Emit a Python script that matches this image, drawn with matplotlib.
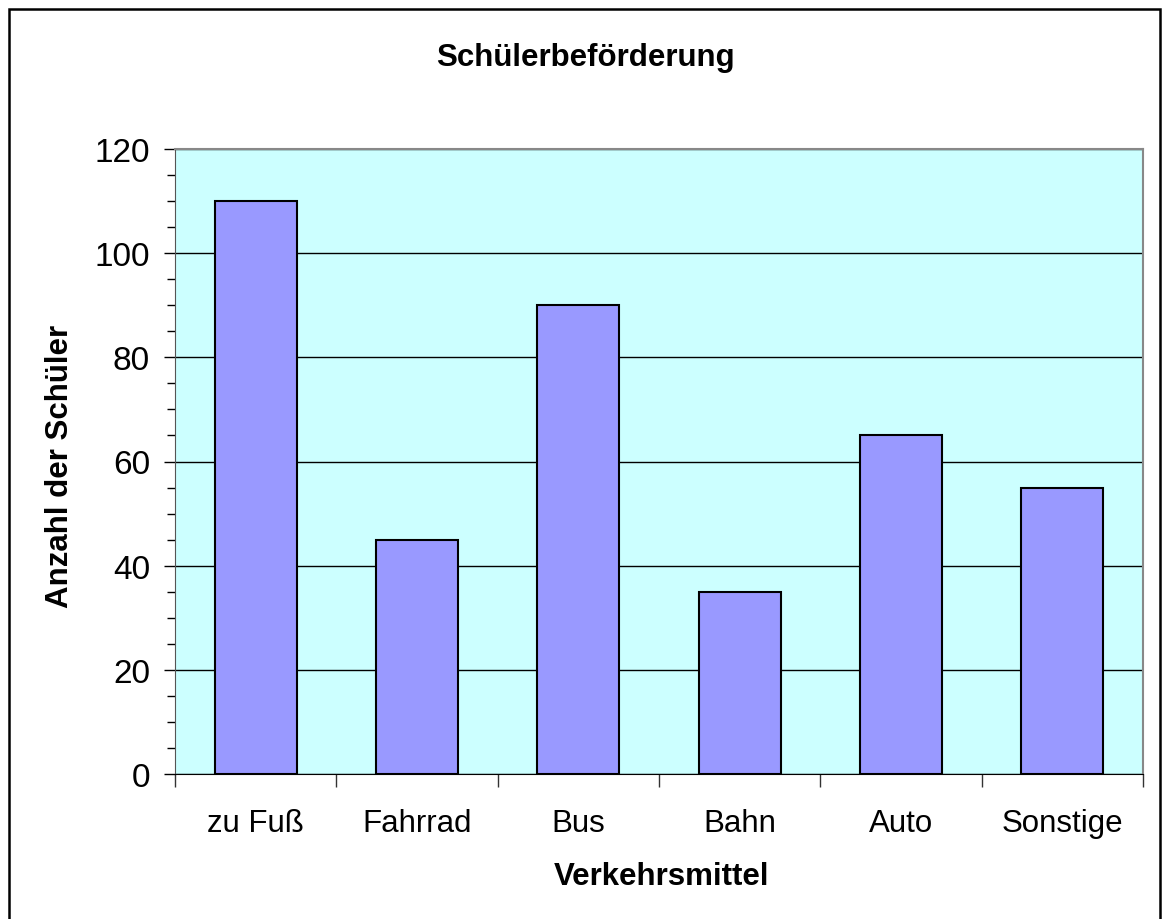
import matplotlib.pyplot as plt
from matplotlib.ticker import MultipleLocator
from matplotlib.patches import Rectangle

plt.rcParams['font.family'] = ['Liberation Sans', 'DejaVu Sans']

kategorien = ['zu Fuß', 'Fahrrad', 'Bus', 'Bahn', 'Auto', 'Sonstige']
anzahl = [110, 45, 90, 35, 65, 55]

fig = plt.figure(figsize=(11.62, 9.20), dpi=100)
ax = fig.add_axes([175 / 1162, 1 - 775 / 920, (1143 - 175) / 1162, (775 - 150) / 920])

# outer frame of the chart (bottom edge lies outside the image)
fig.patches.append(Rectangle((8.5 / 1162, -10 / 920), 1151 / 1162, 920 / 920,
                             transform=fig.transFigure, fill=False,
                             edgecolor='black', linewidth=1.8))

x = list(range(len(kategorien)))
ax.set_facecolor('#CCFFFF')
ax.bar(x, anzahl, width=0.51, color='#9999FF', edgecolor='black', linewidth=1.5, zorder=3)

ax.set_xlim(-0.5, len(kategorien) - 0.5)
ax.set_ylim(0, 120)
ax.yaxis.set_major_locator(MultipleLocator(20))
ax.yaxis.set_minor_locator(MultipleLocator(5))
ax.grid(axis='y', which='major', color='black', linewidth=1, zorder=1)

ax.set_xticks(x)
ax.set_xticklabels(kategorien)
ax.set_xticks([i - 0.5 for i in range(len(kategorien) + 1)], minor=True)
ax.tick_params(axis='x', which='major', length=0, pad=24.5, labelsize=22.5)
ax.tick_params(axis='x', which='minor', length=9, width=1, color='#333333')
ax.tick_params(axis='y', which='major', length=8, width=1, labelsize=24, pad=10)
ax.tick_params(axis='y', which='minor', length=6, width=1)

for s in ['top', 'right']:
    ax.spines[s].set_color('#888888')
    ax.spines[s].set_linewidth(1.5)
ax.spines['left'].set_color('#555555')
ax.spines['bottom'].set_color('black')

ax.set_xlabel('Verkehrsmittel', fontsize=22.5, fontweight='bold')
ax.xaxis.label.set_va('center')
ax.xaxis.set_label_coords(0.503, (775 - 877) / 625)
ax.set_ylabel('Anzahl der Schüler', fontsize=22.5, fontweight='bold')
ax.yaxis.label.set_va('center')
ax.yaxis.set_label_coords((60 - 175) / 968, 0.494)
fig.text(585 / 1162, 1 - 58 / 920, 'Schülerbeförderung', fontsize=22.5,
         fontweight='bold', ha='center', va='center')

fig.savefig('out.png', dpi=100)
